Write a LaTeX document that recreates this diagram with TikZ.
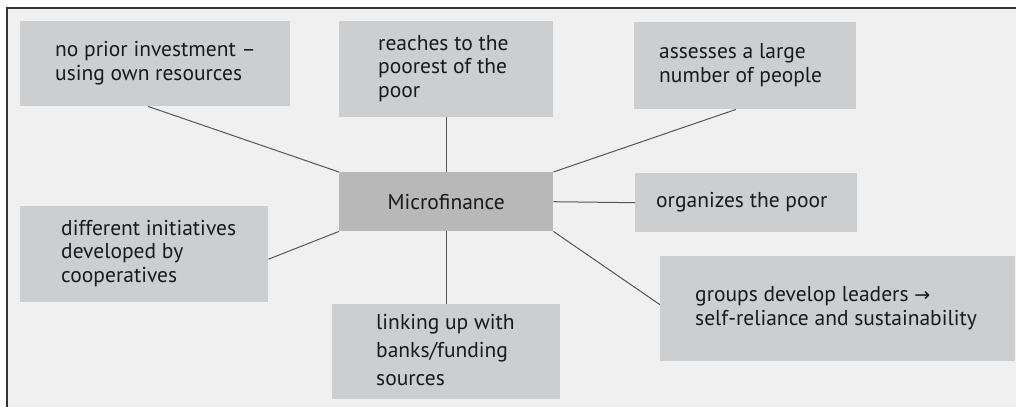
\documentclass[tikz,border=0pt]{standalone}
\usepackage{fontspec}
\setmainfont{PT Sans}
\newfontfamily\arrowfont{DejaVu Sans}
\usetikzlibrary{calc}
\definecolor{bg}{HTML}{F0F0F0}
\definecolor{boxgrey}{HTML}{CDCED0}
\definecolor{centergrey}{HTML}{B8B8B9}
\definecolor{linegrey}{HTML}{555555}
\definecolor{framegrey}{HTML}{333333}
\definecolor{ink}{HTML}{1A1A1A}
\newcommand\boxlines[2]{\makebox[#1][l]{\begin{tabular}{@{}l@{}}#2\end{tabular}}}
\begin{document}
\begin{tikzpicture}[x=1pt,y=1pt,
  idea/.style={fill=boxgrey, draw=none, text=ink,
    font=\fontsize{21.5}{23.5}\selectfont, inner ysep=0pt, anchor=north west},
  hub/.style={fill=centergrey, draw=none, text=ink,
    font=\fontsize{21.5}{23.5}\selectfont, inner sep=0pt, anchor=north west,
    minimum width=214pt, minimum height=59pt},
  link/.style={draw=linegrey, line width=1pt}]
\useasboundingbox (0,0) rectangle (1016,-407);
\fill[bg] (7,-8) rectangle (1016,-407);
\draw[framegrey, line width=1.6pt] (6.2,-8) -- (1016,-8);
\draw[framegrey, line width=1.6pt] (7,-8) -- (7,-407);

\node[idea, inner xsep=35pt, minimum height=85pt] (b1) at (20,-21)
  {\boxlines{200pt}{no prior investment --\\using own resources}};
\node[idea, inner xsep=39pt, minimum height=96pt] (b2) at (339,-21)
  {\boxlines{136pt}{reaches to the\\poorest of the\\poor}};
\node[idea, inner xsep=25pt, minimum height=87pt] (b3) at (634,-22)
  {\boxlines{172pt}{assesses a large\\number of people}};
\node[hub] (mf) at (339,-172) {Microfinance};
\node[idea, inner xsep=21pt, minimum height=59pt] (b5) at (635,-173)
  {\boxlines{180pt}{organizes the poor}};
\node[idea, inner xsep=41pt, minimum height=96pt] (b6) at (20,-206)
  {\boxlines{166pt}{different initiatives\\developed by\\cooperatives}};
\node[idea, inner xsep=44pt, minimum height=95pt,
  font=\fontsize{21.5}{28}\selectfont] (b7) at (332,-304)
  {\boxlines{140pt}{linking up with\\banks/funding\\sources}};
\node[idea, inner xsep=35pt, minimum height=105pt] (b8) at (660,-256)
  {\boxlines{285pt}{groups develop leaders {\arrowfont\fontsize{19}{23.5}\selectfont →}\\self-reliance and sustainability}};

\draw[link] ($(b1.south west)+(128,0)$) -- (mf.north west);
\draw[link] (b2.south) -- (mf.north);
\draw[link] ($(b3.south west)+(102,0)$) -- (mf.north east);
\draw[link] (mf.east) -- (b5.west);
\draw[link] ($(b6.east)+(0,-5)$) -- (mf.south west);
\draw[link] (mf.south) -- (b7.north);
\draw[link] (mf.south east) -- ($(b8.west)+(0,4)$);
\end{tikzpicture}
\end{document}
